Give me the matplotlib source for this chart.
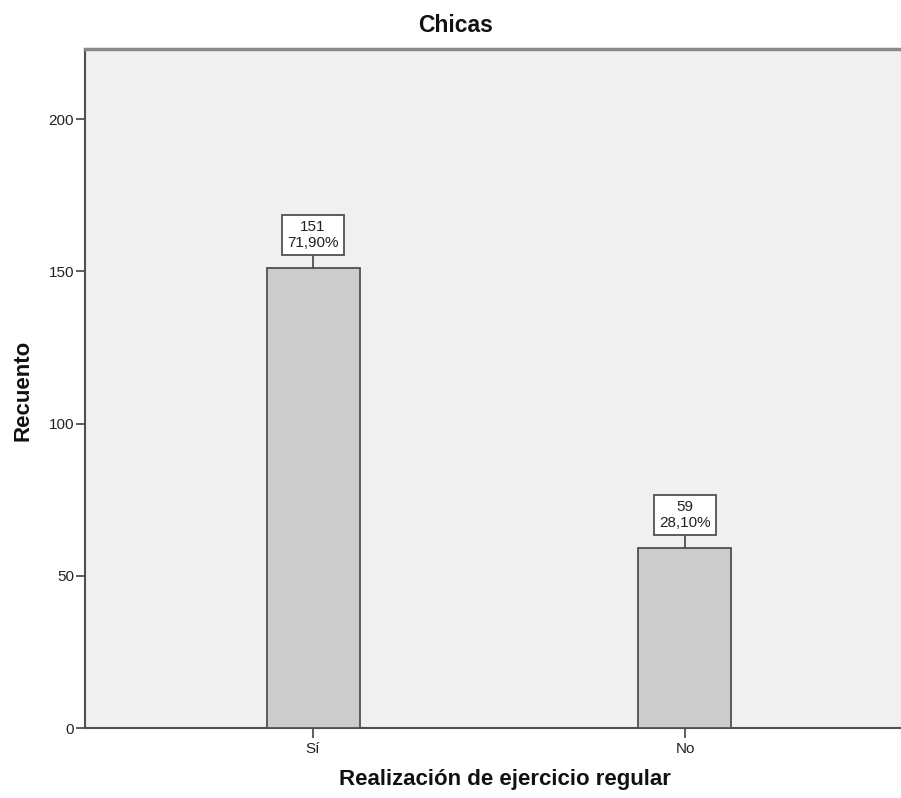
import matplotlib
matplotlib.use("Agg")
import matplotlib.pyplot as plt

categories = ["Sí", "No"]
counts = [151, 59]
percent_labels = ["71,90%", "28,10%"]
yticks = [0, 50, 100, 150, 200]

plt.rcParams['font.family'] = ['Liberation Sans', 'DejaVu Sans']

W, H = 901, 798
fig = plt.figure(figsize=(W / 100, H / 100), dpi=100)
ax = fig.add_axes([85 / W, 70 / H, (913 - 85) / W, (749 - 70) / H])
ax.set_facecolor('#F0F0F0')

x = list(range(len(categories)))
ax.bar(x, counts, width=0.25, color='#CCCCCC', edgecolor='#505050', linewidth=1.3, zorder=3)

for xi, c, p in zip(x, counts, percent_labels):
    ax.annotate(f"{c}\n{p}", xy=(xi, c), xytext=(0, 24), textcoords='offset points',
                ha='center', va='center', fontsize=11, linespacing=1.15, color='#222222',
                bbox=dict(boxstyle='square,pad=0.35', fc='white', ec='#505050', lw=1.3),
                arrowprops=dict(arrowstyle='-', color='#505050', lw=1.3, shrinkA=0, shrinkB=0),
                zorder=4)

ax.set_xlim(-0.613, 1.613)
ax.set_ylim(0, 223)
ax.set_xticks(x)
ax.set_xticklabels(categories, fontsize=11, color='#222222')
ax.set_yticks(yticks)
ax.set_yticklabels([str(v) for v in yticks], fontsize=11, color='#222222')
ax.tick_params(axis='y', length=6.5, width=1.3, color='#505050', pad=1.5)
ax.tick_params(axis='x', length=7, width=1.3, color='#505050', pad=3)

ax.spines['left'].set_color('#505050')
ax.spines['left'].set_linewidth(1.5)
ax.spines['bottom'].set_color('#505050')
ax.spines['bottom'].set_linewidth(1.5)
ax.spines['top'].set_color('#8A8A8A')
ax.spines['top'].set_linewidth(2.5)
ax.spines['right'].set_visible(False)

fig.text(505 / W, 1 - 779 / H, "Realización de ejercicio regular", ha='center', va='center',
         fontsize=16, fontweight='bold', color='#111111')
fig.text(23 / W, 1 - 390 / H, "Recuento", ha='center', va='center', rotation=90,
         fontsize=16, fontweight='bold', color='#111111')
fig.text(456 / W, 1 - 25 / H, "Chicas", ha='center', va='center', fontsize=16.5,
         fontweight='bold', color='#111111')

fig.savefig("out.png", dpi=100)
